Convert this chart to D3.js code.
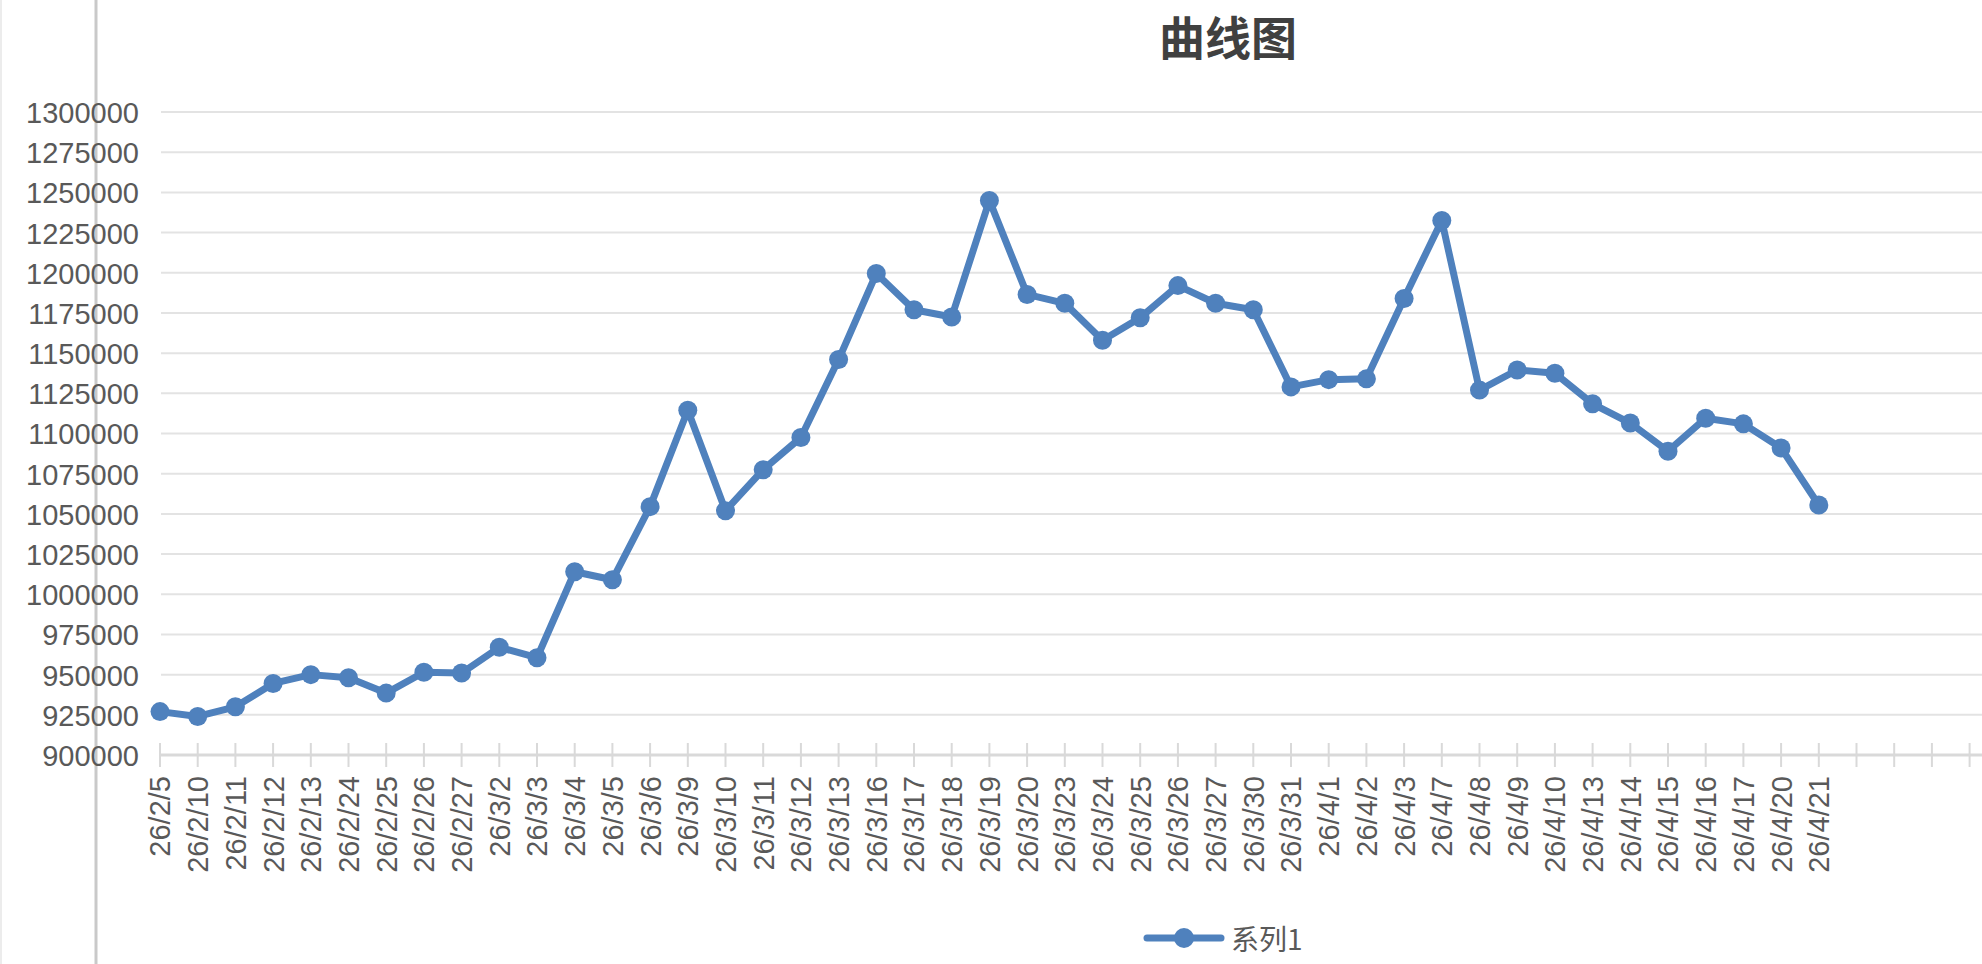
<!DOCTYPE html>
<html>
<head>
<meta charset="utf-8">
<script src="https://cdn.jsdelivr.net/npm/d3@7"></script>
<style>
  html, body { margin: 0; padding: 0; background: #fff; }
  svg { display: block; }
</style>
</head>
<body>
<svg id="chart" width="1982" height="964"></svg>
<script>
const categories = [
  "26/2/5","26/2/10","26/2/11","26/2/12","26/2/13","26/2/24","26/2/25","26/2/26","26/2/27",
  "26/3/2","26/3/3","26/3/4","26/3/5","26/3/6","26/3/9","26/3/10","26/3/11","26/3/12","26/3/13",
  "26/3/16","26/3/17","26/3/18","26/3/19","26/3/20","26/3/23","26/3/24","26/3/25","26/3/26","26/3/27",
  "26/3/30","26/3/31","26/4/1","26/4/2","26/4/3","26/4/7","26/4/8","26/4/9","26/4/10","26/4/13",
  "26/4/14","26/4/15","26/4/16","26/4/17","26/4/20","26/4/21","","","",""
];
const seriesName = "系列1";
const values = [
  927000, 924000, 930000, 944500, 950000, 948000, 938500, 951500, 951000,
  967000, 960500, 1014000, 1009000, 1054500, 1114500, 1052000, 1077500, 1097500, 1146000,
  1199500, 1177000, 1172500, 1245000, 1186500, 1181000, 1158000, 1172000, 1192000, 1181000,
  1177000, 1129000, 1133500, 1134000, 1184000, 1232500, 1127000, 1139500, 1137500, 1118500,
  1106500, 1089000, 1109500, 1106000, 1091000, 1055500
];
const yTicks = [900000, 925000, 950000, 975000, 1000000, 1025000, 1050000, 1075000, 1100000,
  1125000, 1150000, 1175000, 1200000, 1225000, 1250000, 1275000, 1300000];
const title = "曲线图";

(function () {
const W = 1982, H = 964;
const pLeft = 160, pRight = 1969.6, pTop = 112, pBottom = 755;
const blue = "#4f81bd";
const numFont = "'Liberation Sans', Arial, Helvetica, sans-serif";
const cjkFont = "'Noto Sans CJK SC', 'Liberation Sans', sans-serif";

const svg = d3.select("#chart");

const x = d3.scalePoint().domain(d3.range(categories.length)).range([pLeft, pRight]);
const y = d3.scaleLinear().domain([900000, 1300000]).range([pBottom, pTop]);

// left edge lines
svg.append("line").attr("x1", 1).attr("x2", 1).attr("y1", 0).attr("y2", H)
  .attr("stroke", "#ececec").attr("stroke-width", 2);
svg.append("line").attr("x1", 96).attr("x2", 96).attr("y1", 0).attr("y2", H)
  .attr("stroke", "#c9c9c9").attr("stroke-width", 3);

// gridlines
svg.append("g").selectAll("line")
  .data(yTicks.filter(v => v !== 900000))
  .join("line")
  .attr("x1", pLeft + 1).attr("x2", W)
  .attr("y1", d => y(d)).attr("y2", d => y(d))
  .attr("stroke", "#e3e3e3").attr("stroke-width", 2);

// y axis labels
const yAxis = d3.axisLeft(y).tickValues(yTicks).tickSize(0).tickPadding(0).tickFormat(d3.format("d"));
const gy = svg.append("g").attr("transform", "translate(139,0)").call(yAxis);
gy.select(".domain").remove();
gy.selectAll("text")
  .attr("font-family", numFont).attr("font-size", 29).attr("fill", "#595959")
  .attr("dy", "0.36em");

// x axis line and ticks
svg.append("line").attr("x1", pLeft).attr("x2", W).attr("y1", pBottom).attr("y2", pBottom)
  .attr("stroke", "#d9d9d9").attr("stroke-width", 3);
svg.append("g").selectAll("line")
  .data(d3.range(categories.length))
  .join("line")
  .attr("x1", d => x(d)).attr("x2", d => x(d))
  .attr("y1", pBottom - 12).attr("y2", pBottom + 12)
  .attr("stroke", "#d9d9d9").attr("stroke-width", 2);

// x labels rotated
svg.append("g").selectAll("text")
  .data(d3.range(categories.length).filter(i => categories[i] !== ""))
  .join("text")
  .attr("transform", d => `translate(${x(d)},${776}) rotate(-90)`)
  .attr("text-anchor", "end")
  .attr("dy", "0.36em")
  .attr("font-family", numFont).attr("font-size", 29).attr("fill", "#595959")
  .text(d => categories[d]);

// line
const line = d3.line().x((d, i) => x(i)).y(d => y(d));
svg.append("path").datum(values)
  .attr("d", line).attr("fill", "none")
  .attr("stroke", blue).attr("stroke-width", 7).attr("stroke-linejoin", "round");

svg.append("g").selectAll("circle")
  .data(values)
  .join("circle")
  .attr("cx", (d, i) => x(i)).attr("cy", d => y(d)).attr("r", 9.5)
  .attr("fill", blue);

// title
svg.append("text")
  .attr("x", 1228).attr("y", 35)
  .attr("text-anchor", "middle").attr("dominant-baseline", "central")
  .attr("font-family", cjkFont).attr("font-weight", "bold").attr("font-size", 46)
  .attr("fill", "#404040")
  .text(title);

// legend
const lg = svg.append("g");
lg.append("line").attr("x1", 1147).attr("x2", 1221).attr("y1", 938).attr("y2", 938)
  .attr("stroke", blue).attr("stroke-width", 7).attr("stroke-linecap", "round");
lg.append("circle").attr("cx", 1184).attr("cy", 938).attr("r", 10).attr("fill", blue);
lg.append("text").attr("x", 1231).attr("y", 938)
  .attr("dominant-baseline", "central")
  .attr("font-family", cjkFont).attr("font-size", 28).attr("fill", "#595959")
  .text(seriesName);
})();
</script>
</body>
</html>
